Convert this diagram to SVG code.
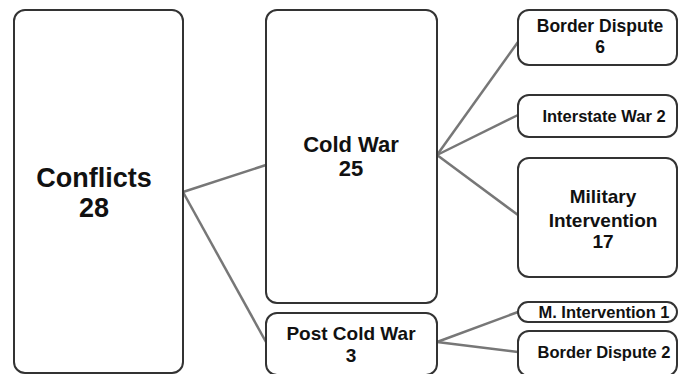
<svg xmlns="http://www.w3.org/2000/svg" width="678" height="374" viewBox="0 0 678 374">
<style>
.box{fill:#fff;stroke:#333;stroke-width:2}
.edge{stroke:#777;stroke-width:2.5;fill:none}
text{font-family:"Liberation Sans",Arial,sans-serif;font-weight:bold;fill:#111;text-anchor:middle}
</style>
<rect width="678" height="374" fill="#fff"/>
<g id="connectors">
<line class="edge" x1="183" y1="192" x2="266" y2="165"/>
<line class="edge" x1="183" y1="192" x2="266" y2="342"/>
<line class="edge" x1="437" y1="155" x2="518" y2="42"/>
<line class="edge" x1="437" y1="155" x2="518" y2="115"/>
<line class="edge" x1="437" y1="155" x2="518" y2="215"/>
<line class="edge" x1="437" y1="342" x2="518" y2="312"/>
<line class="edge" x1="437" y1="342" x2="518" y2="352"/>
</g>
<g id="conflicts">
<rect class="box" x="14" y="10" width="169" height="363" rx="11"/>
<text x="94" y="187" font-size="27">Conflicts</text>
<text x="94" y="217" font-size="27">28</text>
</g>
<g id="coldwar">
<rect class="box" x="266" y="10" width="171" height="293" rx="11"/>
<text x="351" y="152" font-size="22">Cold War</text>
<text x="351" y="176" font-size="22">25</text>
</g>
<g id="postcoldwar">
<rect class="box" x="266" y="313" width="171" height="62" rx="11"/>
<text x="351" y="340" font-size="19">Post Cold War</text>
<text x="351" y="362" font-size="19">3</text>
</g>
<g id="borderdispute6">
<rect class="box" x="518" y="10" width="159" height="55" rx="11"/>
<text x="600" y="32" font-size="17.5">Border Dispute</text>
<text x="600" y="53" font-size="17.5">6</text>
</g>
<g id="interstatewar">
<rect class="box" x="518" y="95" width="159" height="42" rx="11"/>
<text x="604" y="122" font-size="16.5">Interstate War 2</text>
</g>
<g id="military">
<rect class="box" x="518" y="158" width="159" height="119" rx="11"/>
<text x="603" y="203" font-size="19">Military</text>
<text x="603" y="227" font-size="19">Intervention</text>
<text x="603" y="248" font-size="19">17</text>
</g>
<g id="mintervention">
<rect class="box" x="518" y="302" width="159" height="20" rx="10"/>
<text x="604" y="318" font-size="16.5">M. Intervention 1</text>
</g>
<g id="borderdispute2">
<rect class="box" x="518" y="331" width="159" height="45" rx="11"/>
<text x="604" y="358" font-size="16.5">Border Dispute 2</text>
</g>
</svg>
